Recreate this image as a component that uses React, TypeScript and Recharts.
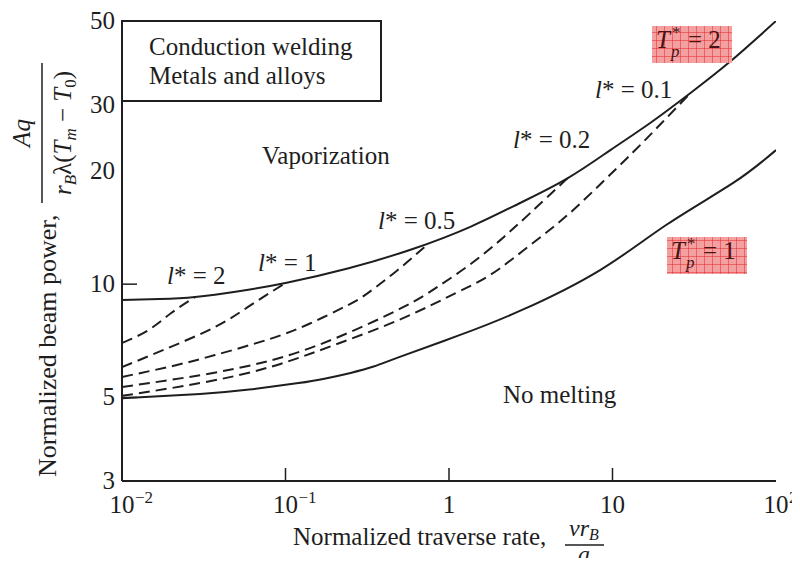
import React from 'react';
import { LineChart, Line, XAxis, YAxis } from 'recharts';

const FONT = "'Liberation Serif', 'Times New Roman', serif";
const INK = '#1e1e1e';

// axis ticks
const X_TICKS = [0.01, 0.1, 1, 10, 100];
const X_TICK_BASE = ['10', '10', '1', '10', '10'];
const X_TICK_EXP = ['\u22122', '\u22121', '', '', '2'];
const X_INNER_TICKS = [0.1, 1, 10];
const X_TOP_TICKS = [1, 10];
const Y_TICKS = [3, 5, 10, 20, 30, 50];
const Y_INNER_TICKS = [5, 10];
const Y_RIGHT_TICKS = [5, 10, 20];

// T_p* = 2 (vaporization limit)
const TP2_X = [0.01, 0.017, 0.028, 0.053, 0.1, 0.24, 0.6, 1.35, 2.7, 5.3, 9.7, 17, 30, 52, 100];
const TP2_Y = [9.08, 9.13, 9.24, 9.59, 10.07, 11.0, 12.4, 14.2, 16.4, 19.1, 22.7, 26.8, 32.2, 38.9, 50];

// T_p* = 1 (melting limit)
const TP1_X = [0.01, 0.03, 0.06, 0.12, 0.17, 0.25, 0.35, 0.5, 1.17, 2.8, 8.4, 21.5, 55, 100];
const TP1_Y = [4.98, 5.11, 5.25, 5.46, 5.6, 5.81, 6.05, 6.41, 7.33, 8.54, 10.9, 14.4, 18.6, 22.7];

// constant l* curves
const L2_X = [0.01, 0.0145, 0.02, 0.028];
const L2_Y = [6.98, 7.55, 8.38, 9.24];
const L1_X = [0.01, 0.018, 0.037, 0.059, 0.1];
const L1_Y = [6.02, 6.69, 7.69, 8.7, 10.07];
const L05_X = [0.01, 0.02, 0.037, 0.08, 0.14, 0.24, 0.32, 0.48, 0.73];
const L05_Y = [5.67, 6.05, 6.48, 7.15, 7.85, 8.79, 9.48, 10.86, 12.7];
const L02_X = [0.01, 0.03, 0.08, 0.2, 0.52, 0.88, 1.35, 2.05, 3.1, 5.3];
const L02_Y = [5.33, 5.73, 6.26, 7.17, 8.67, 9.93, 11.29, 13.07, 15.37, 19.1];
const L01_X = [0.01, 0.03, 0.08, 0.2, 0.52, 1.1, 1.8, 3.1, 5.3, 8.7, 13.3, 19.5, 30];
const L01_Y = [5.05, 5.46, 6.02, 6.9, 8.11, 9.47, 10.6, 12.64, 15.25, 18.68, 22.36, 26.5, 32.2];

const toPoints = (xs: number[], ys: number[]) => xs.map((x, i) => ({ x, y: ys[i] }));

const solidCurves = [toPoints(TP2_X, TP2_Y), toPoints(TP1_X, TP1_Y)];
const dashedCurves = [
  toPoints(L2_X, L2_Y),
  toPoints(L1_X, L1_Y),
  toPoints(L05_X, L05_Y),
  toPoints(L02_X, L02_Y),
  toPoints(L01_X, L01_Y),
];

const same = (a: number, b: number) => Math.abs(Math.log10(a) - Math.log10(b)) < 1e-6;

const XTick = (props: any) => {
  const { x, y, payload } = props;
  const v = payload.value;
  const i = X_TICKS.findIndex((t) => same(t, v));
  const exp = X_TICK_EXP[i];
  return (
    <g>
      {X_INNER_TICKS.some((t) => same(t, v)) && (
        <line x1={x} x2={x} y1={y} y2={y - 13} stroke={INK} strokeWidth={1.5} />
      )}
      <text x={x} y={y + 32} textAnchor="middle" fontFamily={FONT} fontSize={25} fill={INK}>
        {X_TICK_BASE[i]}
      </text>
      {exp && (
        <text x={x + 13} y={y + 22} fontFamily={FONT} fontSize={17} fill={INK}>
          {exp}
        </text>
      )}
    </g>
  );
};

const YTick = (props: any) => {
  const { x, y, payload } = props;
  const v = payload.value;
  return (
    <g>
      {Y_INNER_TICKS.some((t) => same(t, v)) && (
        <line x1={x} x2={x + 15} y1={y} y2={y} stroke={INK} strokeWidth={1.5} />
      )}
      <text x={x - 7} y={y + 8} textAnchor="end" fontFamily={FONT} fontSize={25} fill={INK}>
        {v}
      </text>
    </g>
  );
};

const LStar = ({ x, y, value }: { x: number; y: number; value: string }) => (
  <text x={x} y={y}>
    <tspan fontStyle="italic">l</tspan>
    <tspan>* = {value}</tspan>
  </text>
);

const TpLabel = ({ x, y, value }: { x: number; y: number; value: string }) => (
  <g>
    <rect x={x} y={y} width={80} height={37} fill="url(#redgrid)" />
    <g fill="#4a1212">
      <text x={x + 4} y={y + 22} fontStyle="italic">T</text>
      <text x={x + 20} y={y + 12} fontSize={17}>*</text>
      <text x={x + 19} y={y + 31} fontSize={17} fontStyle="italic">p</text>
      <text x={x + 36} y={y + 22}>= {value}</text>
    </g>
  </g>
);

const App: React.FC = () => {
  return (
    <div style={{ position: 'relative', width: 792, height: 550 }}>
      <style>{'.recharts-surface { overflow: visible !important; }'}</style>
      <LineChart width={792} height={550} margin={{ top: 13, right: 24, bottom: 0, left: 0 }}>
        <XAxis
          dataKey="x"
          type="number"
          scale="log"
          domain={[0.01, 100]}
          allowDataOverflow
          ticks={X_TICKS}
          interval={0}
          height={77}
          tickSize={0}
          tickMargin={0}
          tickLine={false}
          tick={XTick}
          axisLine={{ stroke: INK, strokeWidth: 2 }}
        />
        <XAxis
          xAxisId="top"
          orientation="top"
          dataKey="x"
          type="number"
          scale="log"
          domain={[0.01, 100]}
          allowDataOverflow
          ticks={X_TOP_TICKS}
          interval={0}
          height={0}
          tick={false}
          tickSize={-16}
          tickLine={{ stroke: INK, strokeWidth: 1.5 }}
          axisLine={{ stroke: INK, strokeWidth: 2 }}
        />
        <YAxis
          type="number"
          scale="log"
          domain={[3, 50]}
          allowDataOverflow
          ticks={Y_TICKS}
          interval={0}
          width={114}
          tickSize={0}
          tickMargin={0}
          tickLine={false}
          tick={YTick}
          axisLine={{ stroke: INK, strokeWidth: 2 }}
        />
        <YAxis
          yAxisId="right"
          orientation="right"
          type="number"
          scale="log"
          domain={[3, 50]}
          allowDataOverflow
          ticks={Y_RIGHT_TICKS}
          interval={0}
          width={0}
          tick={false}
          tickSize={-16}
          tickLine={{ stroke: INK, strokeWidth: 1.5 }}
          axisLine={{ stroke: INK, strokeWidth: 2 }}
        />
        {solidCurves.map((d, i) => (
          <Line
            key={`s${i}`}
            data={d}
            dataKey="y"
            type="natural"
            stroke={INK}
            strokeWidth={2}
            dot={false}
            isAnimationActive={false}
          />
        ))}
        {dashedCurves.map((d, i) => (
          <Line
            key={`d${i}`}
            data={d}
            dataKey="y"
            type="natural"
            stroke={INK}
            strokeWidth={2}
            strokeDasharray="11 6"
            dot={false}
            isAnimationActive={false}
          />
        ))}
      </LineChart>

      <svg
        width={800}
        height={566}
        style={{ position: 'absolute', left: -8, top: -8, pointerEvents: 'none', overflow: 'visible' }}
      >
        <defs>
          <pattern id="redgrid" width="8" height="8" patternUnits="userSpaceOnUse">
            <rect width="8" height="8" fill="#f4a0a0" />
            <path d="M8 0 L0 0 0 8" fill="none" stroke="#e3262b" strokeWidth="1" />
          </pattern>
        </defs>
        <g fontFamily={FONT} fontSize={25} fill={INK}>
          <rect x={122} y={21} width={259} height={80} fill="none" stroke={INK} strokeWidth={2} />
          <text x={149} y={55}>Conduction welding</text>
          <text x={149} y={84}>Metals and alloys</text>
          <text x={262} y={164}>Vaporization</text>
          <text x={503} y={403}>No melting</text>

          <LStar x={167} y={284} value="2" />
          <LStar x={258} y={271} value="1" />
          <LStar x={378} y={229} value="0.5" />
          <LStar x={513} y={148} value="0.2" />
          <LStar x={595} y={98} value="0.1" />

          <TpLabel x={652} y={26} value="2" />
          <TpLabel x={667} y={237} value="1" />

          {/* y axis title */}
          <text x={56} y={477} fontSize={26} transform="rotate(-90 56 477)">Normalized beam power,</text>
          <text x={30} y={133} transform="rotate(-90 30 133)" textAnchor="middle" fontStyle="italic">Aq</text>
          <line x1={42} y1={63} x2={42} y2={203} stroke={INK} strokeWidth={1.5} />
          <text x={71} y={133} transform="rotate(-90 71 133)" textAnchor="middle">
            <tspan fontStyle="italic">r</tspan>
            <tspan fontStyle="italic" fontSize={17} dy={5}>B</tspan>
            <tspan dy={-5}>λ(</tspan>
            <tspan fontStyle="italic">T</tspan>
            <tspan fontStyle="italic" fontSize={17} dy={5}>m</tspan>
            <tspan dy={-5}> − </tspan>
            <tspan fontStyle="italic">T</tspan>
            <tspan fontSize={17} dy={5}>0</tspan>
            <tspan dy={-5}>)</tspan>
          </text>

          {/* x axis title */}
          <text x={293} y={545}>Normalized traverse rate,</text>
          <text x={584} y={536} fontSize={24} textAnchor="middle">
            <tspan fontStyle="italic">νr</tspan>
            <tspan fontStyle="italic" fontSize={16} dy={4}>B</tspan>
          </text>
          <line x1={565} y1={545} x2={604} y2={545} stroke={INK} strokeWidth={1.5} />
          <text x={584} y={562} fontSize={24} textAnchor="middle" fontStyle="italic">a</text>
        </g>
      </svg>
    </div>
  );
};

export default App;
